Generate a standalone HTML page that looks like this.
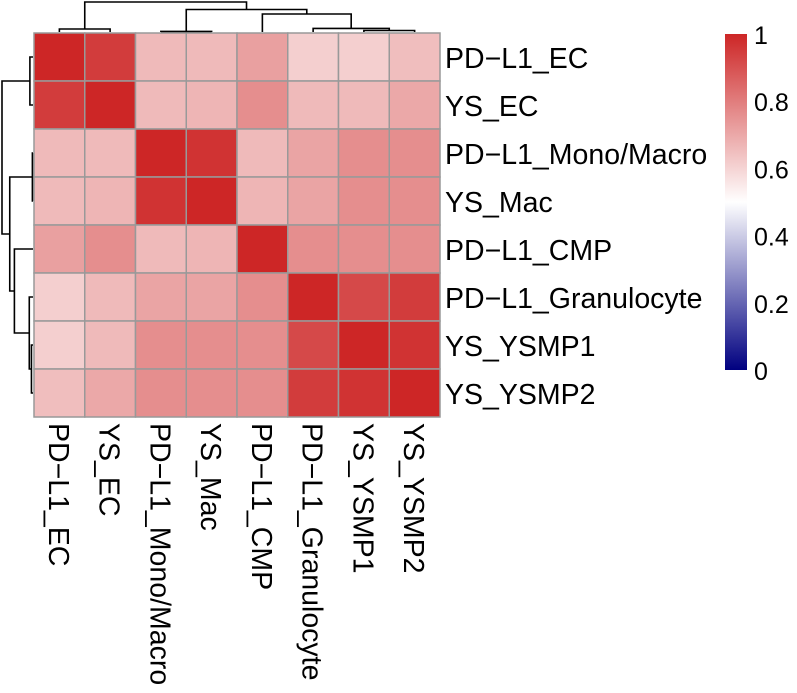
<!DOCTYPE html>
<html><head><meta charset="utf-8"><style>
body{margin:0;background:#fff}
svg{display:block;font-family:"Liberation Sans",Arial,sans-serif}
</style></head><body>
<svg id="chart" width="797" height="693">
<defs><linearGradient id="cb" x1="0" y1="1" x2="0" y2="0">
<stop offset="0" stop-color="#000080"/><stop offset="0.5" stop-color="#ffffff"/><stop offset="1" stop-color="#cd2626"/></linearGradient></defs>
<g id="cells"></g>
<g id="dend" stroke="#000" stroke-width="1.6" fill="none"></g>
<g id="labels" font-size="28.5" fill="#000"></g>
<g>
<rect x="725" y="34" width="22" height="336" fill="url(#cb)"/>
<g id="legendticks" font-size="25"></g>
</g>
</svg>
<script>
const labels=["PD−L1_EC","YS_EC","PD−L1_Mono/Macro","YS_Mac","PD−L1_CMP","PD−L1_Granulocyte","YS_YSMP1","YS_YSMP2"];
const row0=[1,.95,.66,.66,.72,.61,.61,.65];
const row1=[.95,1,.66,.67,.76,.66,.66,.70];
const row2=[.66,.66,1,.97,.66,.71,.76,.76];
const row3=[.66,.67,.97,1,.67,.71,.76,.76];
const row4=[.72,.76,.66,.67,1,.76,.76,.76];
const row5=[.61,.66,.71,.71,.76,1,.92,.95];
const row6=[.61,.66,.76,.76,.76,.92,1,.97];
const row7=[.65,.70,.76,.76,.76,.95,.97,1];
const matrix=[row0,row1,row2,row3,row4,row5,row6,row7];
const legendTicks=[0,0.2,0.4,0.6,0.8,1];
// dendrogram merges: [left child, right child, height]; leaves are 0..7, internal nodes 8..
const merges=[[0,1,0.1],[2,3,0.02],[6,7,0.05],[5,10,0.12],[4,11,0.6],[9,12,0.75],[8,13,1]];

const NS="http://www.w3.org/2000/svg";
const X0=34,Y0=33,W=406,H=384,n=labels.length,cw=W/n,ch=H/n;
const xs=i=>X0+i*cw, ys=i=>Y0+i*ch;
function color(v){
  let a,b,t;
  if(v>=0.5){a=[255,255,255];b=[205,38,38];t=(v-0.5)/0.5;}else{a=[0,0,128];b=[255,255,255];t=v/0.5;}
  return "rgb("+a.map((c,k)=>Math.round(c+(b[k]-c)*t)).join(",")+")";
}
function mk(tag,attrs,parent){const e=document.createElementNS(NS,tag);for(const k in attrs)e.setAttribute(k,attrs[k]);parent.appendChild(e);return e;}
const cells=document.getElementById("cells");
matrix.forEach((r,i)=>r.forEach((v,j)=>{
  const e=mk("rect",{x:xs(j),y:ys(i),width:cw,height:ch,fill:color(v),stroke:"#999",'stroke-width':1.5},cells);
  
  
}));
const lab=document.getElementById("labels");
labels.forEach((l,i)=>{
  const t=mk("text",{x:445,y:ys(i)+ch/2+11},lab);t.textContent=l;
  
  
  const cx=xs(i)+cw/2-10.5;
  const c=mk("text",{x:0,y:0,transform:`translate(${cx},423) rotate(90)`},lab);c.textContent=l;
  
  
});
const dend=document.getElementById("dend");
const pos={},hgt={};
for(let i=0;i<n;i++){pos[i]=i+0.5;hgt[i]=0;}
merges.forEach((m,k)=>{const id=n+k;pos[id]=(pos[m[0]]+pos[m[1]])/2;hgt[id]=m[2];
  const topH=h=>Y0-1-h*30, leftW=h=>X0-1-h*31;
  const p=`M${X0+pos[m[0]]*cw},${topH(hgt[m[0]])}V${topH(m[2])}H${X0+pos[m[1]]*cw}V${topH(hgt[m[1]])}`;
  const e=mk("path",{d:p},dend);
  
  
  const q=`M${leftW(hgt[m[0]])},${Y0+pos[m[0]]*ch}H${leftW(m[2])}V${Y0+pos[m[1]]*ch}H${leftW(hgt[m[1]])}`;
  const f=mk("path",{d:q},dend);
  
  
});
const lt=document.getElementById("legendticks");
legendTicks.forEach(v=>{
  const t=mk("text",{x:754,y:370-v*336+10},lt);t.textContent=String(v);
  
  
});
</script>
</body></html>
